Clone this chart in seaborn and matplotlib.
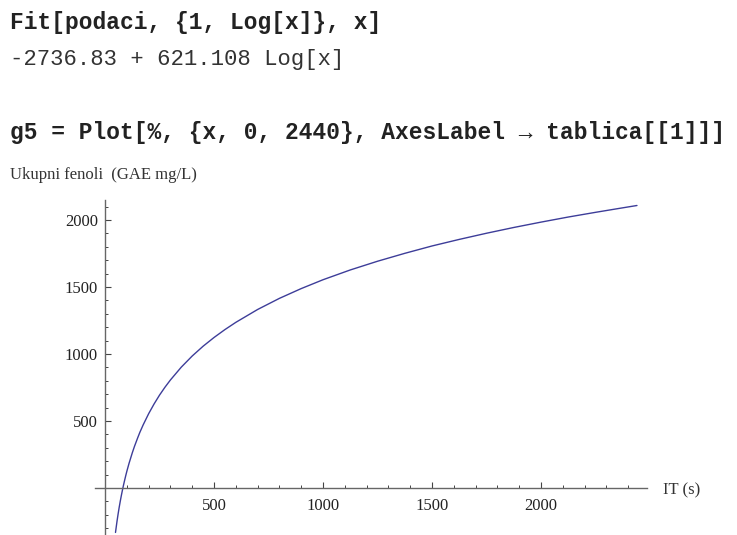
import numpy as np
import matplotlib
matplotlib.use('Agg')
import matplotlib.pyplot as plt
from matplotlib.ticker import MultipleLocator, FixedLocator
import seaborn as sns

# points (IT in s, total phenols in GAE mg/L)
it_s = [48, 55, 60, 65, 70, 75, 80, 85, 90, 95, 100, 110, 125, 135, 150, 160, 175,
        200, 225, 250, 275, 300, 350, 400, 450, 500, 550, 600, 700, 800, 900, 1000,
        1125, 1250, 1375, 1500, 1625, 1750, 1875, 2000, 2125, 2250, 2350, 2440]
fenoli = [-332, -248, -194, -144, -98, -55, -15, 23, 58, 92, 124, 183, 262, 310, 375,
          416, 471, 554, 627, 693, 752, 806, 902, 985, 1058, 1123, 1182, 1236, 1332,
          1415, 1488, 1554, 1627, 1692, 1751, 1806, 1855, 1901, 1944, 1984, 2022,
          2057, 2084, 2108]

x_ticks = [500, 1000, 1500, 2000]
y_ticks = [500, 1000, 1500, 2000]

code_in1 = 'Fit[podaci, {1, Log[x]}, x]'
code_out1 = '-2736.83 + 621.108 Log[x]'
code_in2 = 'g5 = Plot[%, {x, 0, 2440}, AxesLabel \u2192 tablica[[1]]]'
y_label = 'Ukupni fenoli  (GAE mg/L)'
x_label = 'IT (s)'

sns.set_style('white')
W, H = 737, 535
fig = plt.figure(figsize=(W / 100, H / 100), dpi=100)

mono = ['Liberation Mono', 'DejaVu Sans Mono']
serif = ['Liberation Serif', 'DejaVu Serif']

fig.text(10 / W, 1 - 22 / H, code_in1, family=mono, fontweight='bold', fontsize=16.5,
         va='center', ha='left', color='#222222')
fig.text(10 / W, 1 - 59 / H, code_out1, family=mono, fontsize=16,
         va='center', ha='left', color='#333333')
fig.text(10 / W, 1 - 132 / H, code_in2, family=mono, fontweight='bold', fontsize=16.5,
         va='center', ha='left', color='#222222')
fig.text(10 / W, 1 - 175 / H, y_label, family=serif, fontsize=12,
         va='center', ha='left', color='#333333')
fig.text(663 / W, 1 - 490 / H, x_label, family=serif, fontsize=12,
         va='center', ha='left', color='#333333')

ax = fig.add_axes([95 / W, 0, 552 / W, 335 / H])
sns.lineplot(x=it_s, y=fenoli, ax=ax, color='#3d3d99', linewidth=1.0, sort=False)

ax.set_xlim(-46, 2486)
ax.set_ylim(-351, 2149)

for side in ['top', 'right']:
    ax.spines[side].set_visible(False)
ax.spines['left'].set_position(('data', 0))
ax.spines['bottom'].set_position(('data', 0))
for side in ['left', 'bottom']:
    ax.spines[side].set_color('#666666')
    ax.spines[side].set_linewidth(1.0)

ax.xaxis.set_major_locator(FixedLocator(x_ticks))
ax.yaxis.set_major_locator(FixedLocator(y_ticks))
ax.xaxis.set_minor_locator(MultipleLocator(100))
ax.yaxis.set_minor_locator(MultipleLocator(100))
ax.tick_params(which='both', bottom=True, left=True, top=False, right=False)
ax.tick_params(which='major', direction='in', length=4.5, width=0.8, color='#444444',
               labelsize=12, labelcolor='#222222')
ax.tick_params(which='minor', direction='in', length=2.5, width=0.7, color='#444444')
ax.tick_params(axis='x', which='major', pad=7)
ax.tick_params(axis='y', which='major', pad=5)
for lbl in ax.get_xticklabels() + ax.get_yticklabels():
    lbl.set_family(serif)
ax.set_xlabel('')
ax.set_ylabel('')
ax.patch.set_alpha(0)

fig.savefig('out.png', dpi=100)
plt.close()
